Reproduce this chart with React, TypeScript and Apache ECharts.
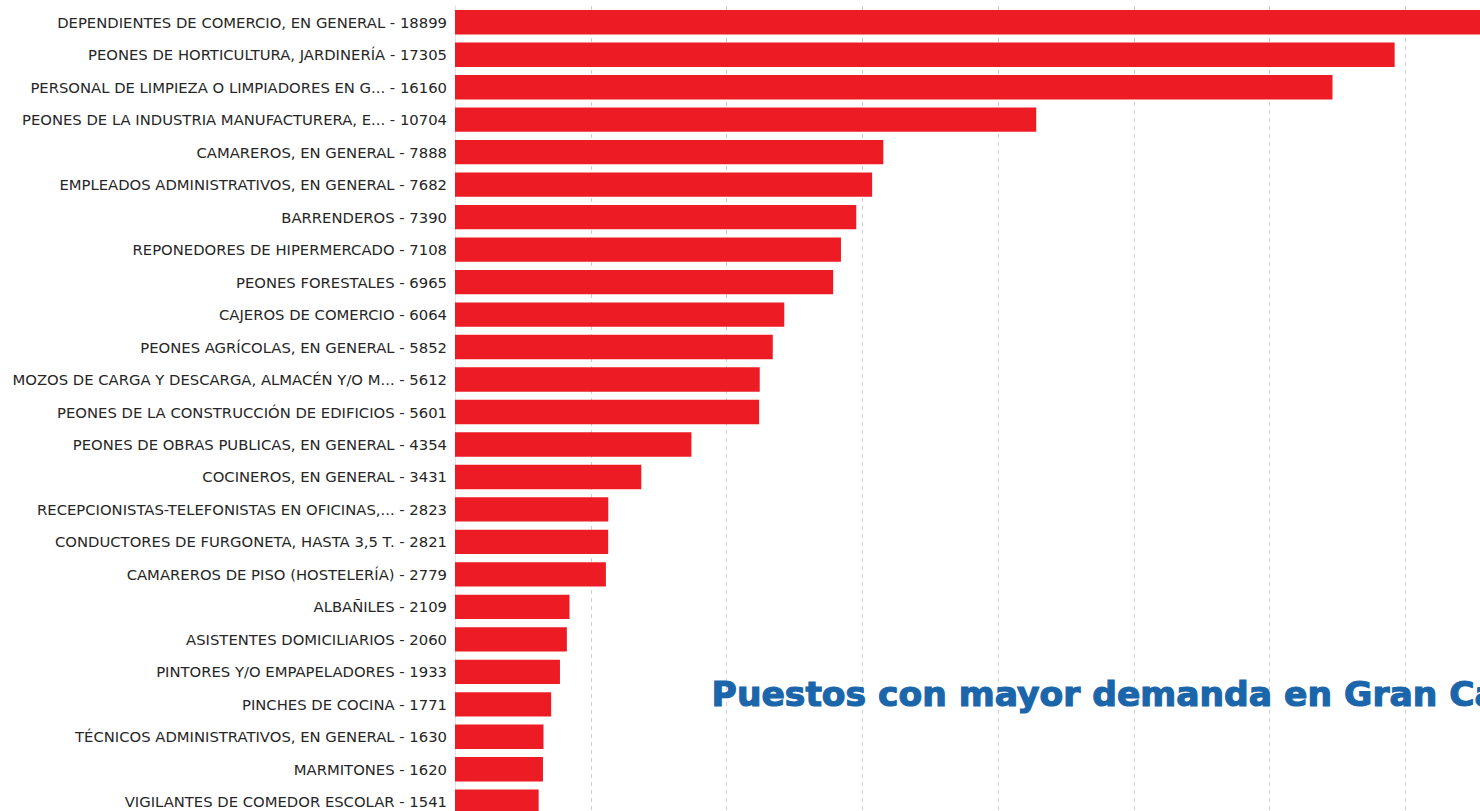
import React, { useEffect, useRef } from "react";
import * as echarts from "echarts";

const names: string[] = [
  "DEPENDIENTES DE COMERCIO, EN GENERAL",
  "PEONES DE HORTICULTURA, JARDINERÍA",
  "PERSONAL DE LIMPIEZA O LIMPIADORES EN G...",
  "PEONES DE LA INDUSTRIA MANUFACTURERA, E...",
  "CAMAREROS, EN GENERAL",
  "EMPLEADOS ADMINISTRATIVOS, EN GENERAL",
  "BARRENDEROS",
  "REPONEDORES DE HIPERMERCADO",
  "PEONES FORESTALES",
  "CAJEROS DE COMERCIO",
  "PEONES AGRÍCOLAS, EN GENERAL",
  "MOZOS DE CARGA Y DESCARGA, ALMACÉN Y/O M...",
  "PEONES DE LA CONSTRUCCIÓN DE EDIFICIOS",
  "PEONES DE OBRAS PUBLICAS, EN GENERAL",
  "COCINEROS, EN GENERAL",
  "RECEPCIONISTAS-TELEFONISTAS EN OFICINAS,...",
  "CONDUCTORES DE FURGONETA, HASTA 3,5 T.",
  "CAMAREROS DE PISO (HOSTELERÍA)",
  "ALBAÑILES",
  "ASISTENTES DOMICILIARIOS",
  "PINTORES Y/O EMPAPELADORES",
  "PINCHES DE COCINA",
  "TÉCNICOS ADMINISTRATIVOS, EN GENERAL",
  "MARMITONES",
  "VIGILANTES DE COMEDOR ESCOLAR",
];

const values: number[] = [
  18899, 17305, 16160, 10704, 7888, 7682, 7390, 7108, 6965, 6064, 5852, 5612,
  5601, 4354, 3431, 2823, 2821, 2779, 2109, 2060, 1933, 1771, 1630, 1620, 1541,
];

const xMin = 0;
const xMax = 20000;
const xInterval = 2500;

const titleText = "Puestos con mayor demanda en Gran Canaria";

export default function App() {
  const ref = useRef<HTMLDivElement>(null);

  useEffect(() => {
    if (!ref.current) return;
    const chart = echarts.init(ref.current, undefined, { renderer: "svg" });
    const categories = names.map((n, i) => `${n} - ${values[i]}`);
    chart.setOption({
      animation: false,
      backgroundColor: "#ffffff",
      grid: { left: 455, top: 6, width: 1086, height: 812, containLabel: false },
      xAxis: {
        type: "value",
        min: xMin,
        max: xMax,
        interval: xInterval,
        axisLine: { show: false },
        axisTick: { show: false },
        axisLabel: { show: false },
        splitLine: {
          show: true,
          lineStyle: { color: "#cfcfcf", type: [4, 4], width: 1 },
        },
      },
      yAxis: {
        type: "category",
        data: categories,
        inverse: true,
        axisLine: { show: true, lineStyle: { color: "#e2e2e2", width: 1 } },
        axisTick: { show: false },
        axisLabel: {
          margin: 8,
          color: "#262626",
          fontFamily: "DejaVu Sans",
          fontSize: 14.8,
        },
      },
      series: [
        {
          type: "bar",
          data: values,
          barCategoryGap: "25%",
          itemStyle: { color: "#ED1C24" },
        },
      ],
      graphic: [
        {
          type: "text",
          left: 711,
          top: 676,
          z: 100,
          style: {
            text: titleText,
            fill: "#1B66AA",
            stroke: "#1B66AA",
            lineWidth: 1.2,
            font: "bold 34.5px 'DejaVu Sans'",
          },
        },
      ],
    });
    return () => chart.dispose();
  }, []);

  return (
    <div
      style={{
        position: "fixed",
        left: 0,
        top: 0,
        width: 1480,
        height: 811,
        overflow: "hidden",
        background: "#fff",
      }}
    >
      <div ref={ref} style={{ width: 1600, height: 830 }} />
    </div>
  );
}
